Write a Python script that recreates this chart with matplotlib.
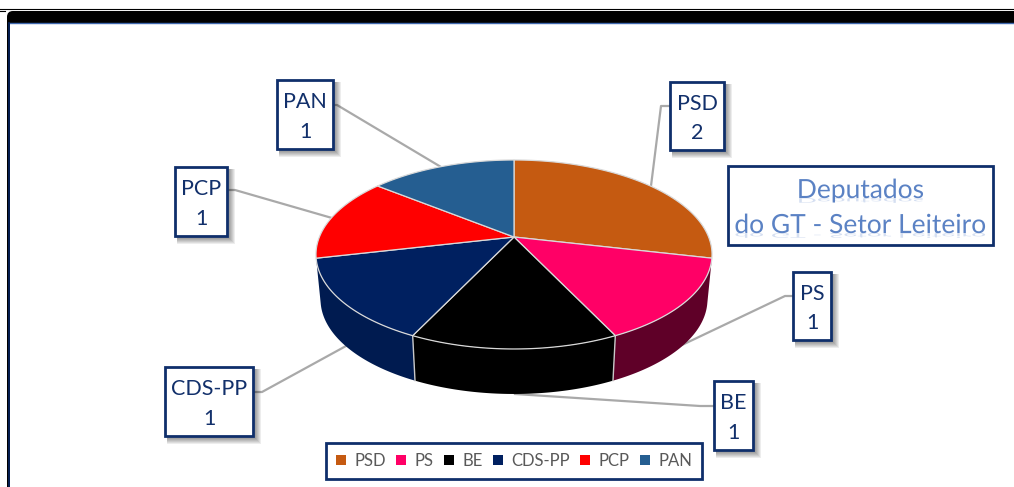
import numpy as np
import matplotlib
matplotlib.use('Agg')
import matplotlib.pyplot as plt
from matplotlib.colors import to_rgb
from matplotlib.patches import Rectangle, FancyBboxPatch, Patch
from matplotlib.patheffects import AbstractPathEffect, Normal
from matplotlib.transforms import Affine2D

plt.rcParams['font.family'] = ['Lato', 'DejaVu Sans']

parties = ['PSD', 'PS', 'BE', 'CDS-PP', 'PCP', 'PAN']
deputies = [2, 1, 1, 1, 1, 1]
top_colors = ['#C55A11', '#FF0066', '#000000', '#002060', '#FF0000', '#255E91']
wall_colors = ['#7A3A0B', '#5F0028', '#000000', '#001B50', '#A00000', '#173B5B']

# label boxes: x0, y0, x1, y1 in pixels
boxes = [(670, 82, 724, 150), (793, 272, 831, 340), (714, 381, 753, 450),
         (165, 367, 253, 436), (175, 167, 227, 236), (277, 80, 333, 149)]
leaders = [[(670, 106), (661, 106), (651, 186)],
           [(793, 296), (785, 296), (682, 345)],
           [(714, 406), (700, 406), (515, 394)],
           [(253, 392), (262, 392), (346, 346)],
           [(227, 190), (235, 190), (332, 218)],
           [(333, 105), (337, 105), (441, 167)]]

NAVY = '#0F2F6B'
LEADER = '#A9A9A9'
CX, CY = 514, 237
R, H, K = 194.6, 91.26, 0.185
DEPTH, SHRINK = 45, 0.977


class Reflection(AbstractPathEffect):
    # squashed mirror image of the glyphs under their baseline
    def __init__(self, color, squash=0.25):
        super().__init__()
        self.color = to_rgb(color)
        self.squash = squash

    def draw_path(self, renderer, gc, tpath, affine, rgbFace=None):
        flip = Affine2D().scale(1, -self.squash) + affine
        renderer.draw_path(gc, tpath, flip, self.color)


def rim(theta):
    # perspective projection of the pie circle, theta clockwise from top
    u, v = np.sin(theta), np.cos(theta)
    d = 1 + K * v
    return CX + R * u / d, CY - H * v / d


def lower_rim(theta):
    x, y = rim(theta)
    return CX + SHRINK * (x - CX), y + DEPTH


def box(ax, x0, y0, x1, y1, lw=2.0, shadow=True):
    if shadow:
        for i in range(6, 0, -1):
            ax.add_patch(Rectangle((x0 + 2, y0 + 2), x1 - x0 + i, y1 - y0 + i,
                                   fc='#000000', ec='none', alpha=0.07, zorder=5))
    ax.add_patch(Rectangle((x0, y0), x1 - x0, y1 - y0, fc='white', ec=NAVY, lw=lw, zorder=6))


fig = plt.figure(figsize=(10.14, 4.87), dpi=100)
ax = fig.add_axes([0, 0, 1, 1])
ax.set_xlim(0, 1014)
ax.set_ylim(487, 0)
ax.axis('off')

# frame
ax.plot([0, 1014], [9.3, 9.3], color='black', lw=0.8, zorder=1)
ax.plot([0, 5], [10.5, 10.5], color='black', lw=0.8, zorder=1)
ax.add_patch(FancyBboxPatch((7, 11), 1100, 600, boxstyle='round,pad=0,rounding_size=6',
                            fc='black', ec='none', zorder=1))
ax.add_patch(Rectangle((10, 23), 1010, 470, fc='white', ec='none', zorder=1))
ax.plot([10, 1014], [22.6, 22.6], color='#3F68AE', lw=1, zorder=2)
ax.plot([9, 9], [23, 487], color='#06245F', lw=1.2, zorder=2)

# leader lines
for pts in leaders:
    xs, ys = zip(*pts)
    ax.plot(xs, ys, color=LEADER, lw=1.6, zorder=2)

edges = np.radians(np.cumsum([0] + deputies) / sum(deputies) * 360)

# side wall, only the slices facing the viewer
for i in range(len(parties)):
    if parties[i] not in ('PS', 'BE', 'CDS-PP'):
        continue
    t = np.linspace(edges[i], edges[i + 1], 80)
    x0, y0 = rim(t)
    x1, y1 = lower_rim(t)
    ax.fill(np.r_[x0, x1[::-1]], np.r_[y0, y1[::-1]], color=wall_colors[i], lw=0, zorder=3)

for e in edges[2:4]:
    x0, y0 = rim(e)
    x1, y1 = lower_rim(e)
    ax.plot([x0, x1], [y0, y1], color='#C8C8C8', lw=1, zorder=3.5)

# top face
for i in range(len(parties)):
    t = np.linspace(edges[i], edges[i + 1], 80)
    x0, y0 = rim(t)
    ax.fill(np.r_[CX, x0], np.r_[CY, y0], fc=top_colors[i], ec='#D9D9D9', lw=0.9, zorder=4)

# data labels
for name, n, (x0, y0, x1, y1) in zip(parties, deputies, boxes):
    box(ax, x0, y0, x1, y1)
    ax.text((x0 + x1) / 2, (y0 + y1) / 2 + 2.5, f'{name}\n{n}', ha='center', va='center',
            fontsize=15.5, color='#12306B', linespacing=1.6, zorder=7)

# title box
box(ax, 728, 166, 993, 245, shadow=False)
title = ax.text(860.5, 208, 'Deputados\ndo GT - Setor Leiteiro', ha='center', va='center',
                fontsize=19, color='#5B82C4', linespacing=1.5, zorder=7)
title.set_path_effects([Reflection('#D5DFF1'), Normal()])

# legend
handles = [Patch(fc=c, ec='none', label=p) for p, c in zip(parties, top_colors)]
leg = ax.legend(handles=handles, ncol=6, loc='center', bbox_to_anchor=(514, 461),
                bbox_transform=ax.transData, frameon=True, fancybox=False, fontsize=12,
                labelcolor='#595959', edgecolor=NAVY, handlelength=0.6, handleheight=0.6,
                handletextpad=0.5, columnspacing=0.62, borderpad=0.6)
leg.get_frame().set_linewidth(2.0)
leg.get_frame().set_alpha(1)
leg.set_zorder(8)

fig.savefig('out.png', dpi=100)
